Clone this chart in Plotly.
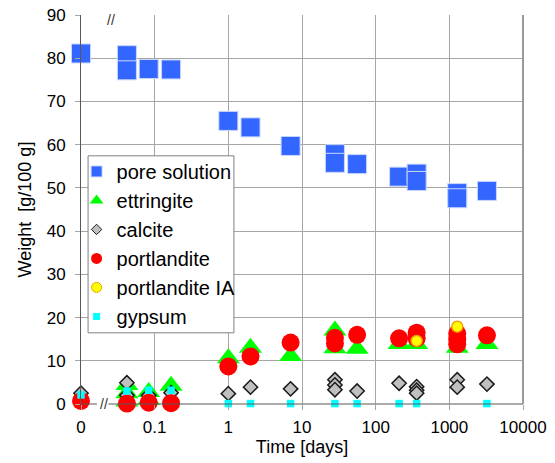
import plotly.graph_objects as go

# ---------------- data (time in days; 0 = start, drawn at left edge) ----------------
t_pore = [0, 0.042, 0.042, 0.083, 0.167, 1, 2, 7, 28, 28, 56, 208, 360, 360, 1280, 1280, 3240]
pore_solution = [81.1, 80.7, 77.2, 77.5, 77.4, 65.5, 64.0, 59.7, 57.8, 55.8, 55.5, 52.6, 53.3, 51.6, 48.8, 47.6, 49.3]

t_ettr = [0.042, 0.042, 0.042, 0.083, 0.083, 0.167, 1, 2, 7, 28, 28, 56, 208, 360, 1280, 3240]
ettringite = [4.4, 2.5, 0.6, 2.8, 1.0, 4.2, 10.6, 13.0, 11.1, 17.0, 12.9, 12.8, 13.9, 13.9, 13.0, 13.9]

t_calc = [0, 0.042, 0.042, 0.083, 0.167, 1, 2, 7, 28, 28, 28, 56, 208, 360, 360, 360, 1280, 1280, 3240]
calcite = [2.5, 4.9, 2.0, 2.0, 2.6, 2.4, 3.9, 3.5, 5.6, 4.4, 3.3, 3.0, 4.8, 4.0, 3.2, 2.5, 5.6, 3.9, 4.6]

t_port = [0, 0.042, 0.083, 0.167, 1, 2, 7, 28, 28, 56, 208, 360, 360, 1280, 1280, 1280, 3240]
portlandite = [0.7, 0.1, 0.3, 0.2, 8.7, 11.0, 14.2, 15.3, 14.0, 16.0, 15.2, 16.5, 15.2, 16.3, 15.0, 13.8, 15.9]

t_port_ia = [360, 1280]
portlandite_ia = [14.6, 17.9]

t_gyps = [0, 0.042, 0.083, 0.167, 1, 2, 7, 28, 56, 208, 360, 3240]
gypsum = [2.1, 3.0, 3.2, 3.2, 0.1, 0.1, 0.1, 0.1, 0.1, 0.1, 0.1, 0.1]

tick_vals = [0.01, 0.1, 1, 10, 100, 1000, 10000]
tick_text = ["0", "0.1", "1", "10", "100", "1000", "10000"]
ZERO_POS = 0.01  # time 0 is drawn at the left end of the log axis (broken axis)


def xpos(ts):
    return [t if t > 0 else ZERO_POS for t in ts]


FONT = "Liberation Sans, Arial, sans-serif"

series = [
    # name, times, values, symbol, size, color, line color, line width, legend size
    ("pore solution", t_pore, pore_solution, "square", 19, "#3366FF", "#C8D6FF", 1, 11),
    ("ettringite", t_ettr, ettringite, "triangle-up", 20, "#00FF00", "#00FF00", 0, 12),
    ("calcite", t_calc, calcite, "diamond", 11, "#C0C0C0", "#1A1A1A", 1.5, 8),
    ("portlandite", t_port, portlandite, "circle", 18, "#FF0000", "#FF0000", 0, 11),
    ("portlandite IA", t_port_ia, portlandite_ia, "circle", 11, "#FFFF00", "#F0A000", 1.5, 10),
    ("gypsum", t_gyps, gypsum, "square", 7.5, "#00FFFF", "#00FFFF", 0, 7),
]

fig = go.Figure()
for name, ts, vals, sym, size, col, lcol, lw, lsize in series:
    fig.add_trace(go.Scatter(
        x=xpos(ts), y=vals, mode="markers", name=name, showlegend=False,
        cliponaxis=False,
        marker=dict(symbol=sym, size=size, color=col, line=dict(color=lcol, width=lw)),
    ))
for name, ts, vals, sym, size, col, lcol, lw, lsize in series:
    fig.add_trace(go.Scatter(
        x=[None], y=[None], mode="markers", name=name, showlegend=True,
        marker=dict(symbol=sym, size=lsize, color=col, line=dict(color=lcol, width=min(lw, 1))),
    ))

axis_dark = "#595959"
grid = "#A6A6A6"

fig.update_layout(
    width=555, height=463,
    margin=dict(l=81, r=32, t=15, b=59, autoexpand=False),
    paper_bgcolor="white", plot_bgcolor="white",
    font=dict(family=FONT, size=16, color="black"),
    showlegend=True,
    legend=dict(
        x=-0.01, xanchor="left", y=0.648, yanchor="top",
        bgcolor="rgba(0,0,0,0)", borderwidth=0,
        font=dict(family=FONT, size=20, color="black"),
    ),
    xaxis=dict(
        type="log", range=[-2, 4], automargin=False,
        tickvals=tick_vals, ticktext=tick_text,
        showgrid=True, gridcolor=grid, gridwidth=1,
        showline=False, zeroline=False,
        ticks="outside", ticklen=5, tickcolor=grid,
        ticklabelstandoff=3,
        tickfont=dict(size=17),
        title=dict(text="Time [days]", font=dict(size=18), standoff=3),
    ),
    yaxis=dict(
        range=[0, 90], dtick=10, automargin=False,
        showgrid=True, gridcolor=grid, gridwidth=1,
        showline=True, linecolor=axis_dark, linewidth=1,
        zeroline=False,
        ticks="outside", ticklen=5, tickcolor=grid,
        ticklabelstandoff=6,
        tickfont=dict(size=17),
        title=dict(text="Weight  [g/100 g]", font=dict(size=18), standoff=10),
    ),
)

shapes = [
    # white patches for axis breaks
    dict(type="rect", xref="paper", yref="paper", x0=0.036, x1=0.062, y0=-0.004, y1=0.004,
         fillcolor="white", line=dict(width=0), layer="above"),
    dict(type="rect", xref="paper", yref="paper", x0=0.049, x1=0.081, y0=0.996, y1=1.004,
         fillcolor="white", line=dict(width=0), layer="above"),
    # bottom axis line with break
    dict(type="line", xref="paper", yref="paper", x0=0, x1=0.036, y0=0, y1=0,
         line=dict(color=axis_dark, width=1), layer="above"),
    dict(type="line", xref="paper", yref="paper", x0=0.062, x1=1, y0=0, y1=0,
         line=dict(color=axis_dark, width=1), layer="above"),
    # right border
    dict(type="line", xref="paper", yref="paper", x0=1, x1=1, y0=0, y1=1,
         line=dict(color="#9A9A9A", width=2), layer="above"),
    # legend box
    dict(type="rect", xref="paper", yref="paper", x0=0.016, x1=0.346, y0=0.183, y1=0.638,
         fillcolor="white", line=dict(color="#808080", width=1), layer="above"),
]
fig.update_layout(shapes=shapes)

fig.add_annotation(x=0.053, y=0, xref="paper", yref="paper", text="//", showarrow=False,
                   font=dict(family=FONT, size=14, color="#333333"), xanchor="center", yanchor="middle")
fig.add_annotation(x=0.067, y=0.986, xref="paper", yref="paper", text="//", showarrow=False,
                   font=dict(family=FONT, size=14, color="#333333"), xanchor="center", yanchor="middle")

fig.write_html("out.html")
